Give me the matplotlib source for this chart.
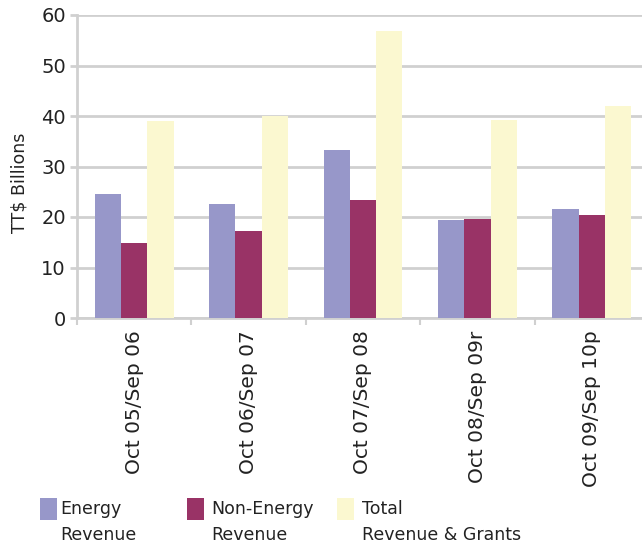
import matplotlib
matplotlib.use("Agg")
import matplotlib.pyplot as plt
from matplotlib.patches import Rectangle
import numpy as np

categories = ["Oct 05/Sep 06", "Oct 06/Sep 07", "Oct 07/Sep 08", "Oct 08/Sep 09r", "Oct 09/Sep 10p"]
energy = [24.6, 22.6, 33.3, 19.4, 21.6]
non_energy = [14.9, 17.3, 23.4, 19.6, 20.4]
total = [39.0, 40.0, 56.8, 39.2, 42.0]
series_names = ["Energy\nRevenue", "Non-Energy\nRevenue", "Total\nRevenue & Grants"]
colors = ["#9797C9", "#993366", "#FBF8D0"]
yticks = [0, 10, 20, 30, 40, 50, 60]

plt.rcParams['font.family'] = ['DejaVu Sans']
txt = "#222222"
grid = "#D0D0D0"

fig = plt.figure(figsize=(6.42, 5.46), dpi=100)
ax = fig.add_axes([77/642, 1-318/546, (649-77)/642, (318-15)/546])

x = np.arange(len(categories))
w = 0.23
for i, (vals, c) in enumerate(zip([energy, non_energy, total], colors)):
    ax.bar(x + (i-1)*w, vals, width=w, color=c, zorder=3, linewidth=0)

ax.set_xlim(-0.5, len(categories)-0.5)
ax.set_ylim(0, 60)
ax.set_yticks(yticks)
ax.set_yticklabels([str(t) for t in yticks], fontsize=14, color=txt)
ax.yaxis.grid(True, color=grid, linewidth=2, zorder=0)
ax.set_axisbelow(True)
ax.tick_params(axis='y', length=5, width=2, color=grid, pad=3)

ax.set_xticks(x)
ax.set_xticklabels(categories, rotation=90, fontsize=14.5, color=txt)
ax.set_xticks(np.arange(-0.5, len(categories)), minor=True)
ax.tick_params(axis='x', which='major', length=0, pad=9)
ax.tick_params(axis='x', which='minor', length=5, width=1.5, color=grid)

for s in ['top', 'right']:
    ax.spines[s].set_visible(False)
for s in ['left', 'bottom']:
    ax.spines[s].set_color(grid)
    ax.spines[s].set_linewidth(2)

fig.text(20/642, 1-183/546, "TT$ Billions", rotation=90, fontsize=12.5,
         color=txt, ha='center', va='center')

leg_x = [40, 187, 337]
text_x = [60, 211, 362]
for lx, tx, name, c in zip(leg_x, text_x, series_names, colors):
    fig.add_artist(Rectangle((lx/642, 1-520/546), 17/642, 22/546,
                             transform=fig.transFigure, color=c, linewidth=0))
    fig.text(tx/642, 1-500/546, name, fontsize=12.5, color=txt,
             ha='left', va='top', linespacing=1.55)

fig.savefig("out.png", dpi=100)
